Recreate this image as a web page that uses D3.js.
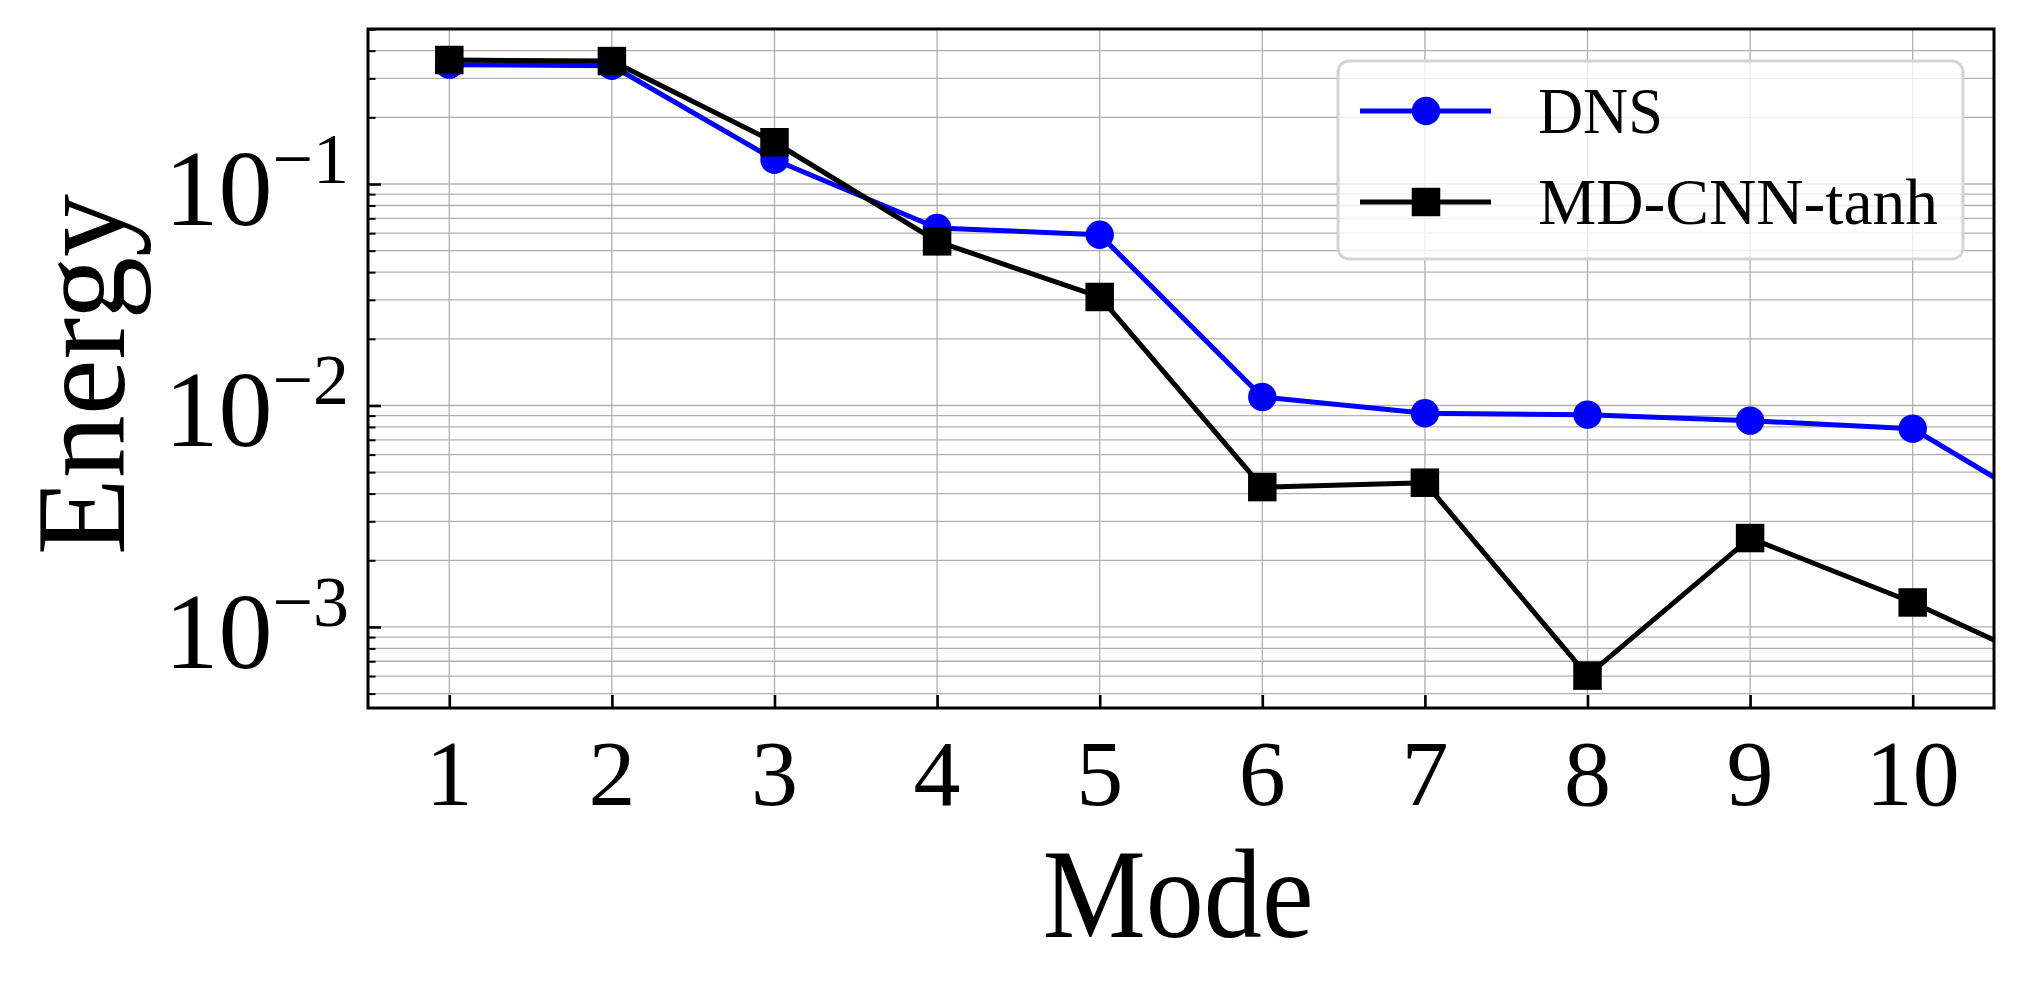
<!DOCTYPE html>
<html>
<head>
<meta charset="utf-8">
<script src="https://cdn.jsdelivr.net/npm/d3@7"></script>
<style>
  html, body { margin: 0; padding: 0; background: #fff; }
  svg { display: block; }
  text { font-family: "Liberation Serif", "DejaVu Serif", serif; fill: #000; }
</style>
</head>
<body>
<svg id="chart" width="2024" height="992"></svg>
<script>
// ---- data ----
const modes = [1, 2, 3, 4, 5, 6, 7, 8, 9, 10, 11];
const dnsEnergy = [0.346, 0.342, 0.1288, 0.0633, 0.0590, 0.01092, 0.00922, 0.00909, 0.00854, 0.00786, 0.00286];
const mdcnnEnergy = [0.363, 0.359, 0.1544, 0.0551, 0.0309, 0.00428, 0.00448, 0.000603, 0.00252, 0.00129, 0.00059];
const seriesNames = ["DNS", "MD-CNN-tanh"];
const xTickValues = [1, 2, 3, 4, 5, 6, 7, 8, 9, 10];
const yTickExponents = [-3, -2, -1];
const xLabel = "Mode";
const yLabel = "Energy";

// ---- layout ----
const L = 368, R = 1994, T = 29, B = 708;
const svg = d3.select("#chart");

const x = d3.scaleLinear().domain([0.5, 10.5]).range([L, R]);
const y = d3.scaleLog().domain([Math.pow(10, -3.366), Math.pow(10, -0.300)]).range([B, T]);

// minor + major y values inside domain
const yAll = [];
for (let e = -4; e <= 0; e++) {
  for (let m = 1; m <= 9; m++) {
    const v = m * Math.pow(10, e);
    if (v >= y.domain()[0] && v <= y.domain()[1]) yAll.push(v);
  }
}
const yMajor = yTickExponents.map(e => Math.pow(10, e));
const yMinor = yAll.filter(v => !yMajor.some(mv => Math.abs(mv - v) / mv < 1e-9));

// ---- grid ----
const grid = svg.append("g").attr("stroke", "#b0b0b0").attr("stroke-width", 1.3);
grid.selectAll("line.gy").data(yAll).join("line")
  .attr("x1", L).attr("x2", R)
  .attr("y1", d => y(d)).attr("y2", d => y(d));
grid.selectAll("line.gx").data(xTickValues).join("line")
  .attr("x1", d => x(d)).attr("x2", d => x(d))
  .attr("y1", T).attr("y2", B);

// ---- clip ----
svg.append("clipPath").attr("id", "plotclip")
  .append("rect").attr("x", L).attr("y", T).attr("width", R - L).attr("height", B - T);

const plot = svg.append("g").attr("clip-path", "url(#plotclip)");

const lineGen = d3.line().x(d => x(d[0])).y(d => y(d[1]));
const LW = 5;

// DNS
const dnsPts = modes.map((m, i) => [m, dnsEnergy[i]]);
plot.append("path").datum(dnsPts)
  .attr("d", lineGen).attr("fill", "none").attr("stroke", "#0000ff")
  .attr("stroke-width", LW).attr("stroke-linejoin", "round");
plot.selectAll("circle.dns").data(dnsPts).join("circle")
  .attr("cx", d => x(d[0])).attr("cy", d => y(d[1])).attr("r", 14.2)
  .attr("fill", "#0000ff");

// MD-CNN-tanh
const mdPts = modes.map((m, i) => [m, mdcnnEnergy[i]]);
plot.append("path").datum(mdPts)
  .attr("d", lineGen).attr("fill", "none").attr("stroke", "#000")
  .attr("stroke-width", LW).attr("stroke-linejoin", "round");
const sq = 28.5;
plot.selectAll("rect.md").data(mdPts).join("rect")
  .attr("x", d => x(d[0]) - sq / 2).attr("y", d => y(d[1]) - sq / 2)
  .attr("width", sq).attr("height", sq).attr("fill", "#000");

// ---- axes (ticks inward) ----
const xAxis = d3.axisBottom(x).tickValues(xTickValues).tickSize(-13).tickFormat("");
const gx = svg.append("g").attr("transform", `translate(0,${B})`).call(xAxis);
gx.select(".domain").remove();
gx.selectAll(".tick line").attr("stroke", "#000").attr("stroke-width", 2.6);

const yAxisMajor = d3.axisLeft(y).tickValues(yMajor).tickSize(-13).tickFormat("");
const gy = svg.append("g").attr("transform", `translate(${L},0)`).call(yAxisMajor);
gy.select(".domain").remove();
gy.selectAll(".tick line").attr("stroke", "#000").attr("stroke-width", 2.6);

const yAxisMinor = d3.axisLeft(y).tickValues(yMinor).tickSize(-7.5).tickFormat("");
const gym = svg.append("g").attr("transform", `translate(${L},0)`).call(yAxisMinor);
gym.select(".domain").remove();
gym.selectAll(".tick line").attr("stroke", "#000").attr("stroke-width", 2);

// frame
svg.append("rect").attr("x", L).attr("y", T).attr("width", R - L).attr("height", B - T)
  .attr("fill", "none").attr("stroke", "#000").attr("stroke-width", 3);

// x tick labels
svg.selectAll("text.xt").data(xTickValues).join("text")
  .attr("x", d => x(d)).attr("y", 805)
  .attr("text-anchor", "middle").attr("font-size", 94)
  .text(d => d);

// y tick labels: 10^e
const yt = svg.selectAll("text.yt").data(yTickExponents).join("text")
  .attr("x", 349).attr("y", d => y(Math.pow(10, d)) + 41)
  .attr("text-anchor", "end").attr("font-size", 108);
yt.append("tspan").text("10");
yt.append("tspan").attr("font-size", 72).attr("dy", -42).text(d => "\u2212" + Math.abs(d));

// axis labels
svg.append("text").attr("x", (L + R) / 2 - 3).attr("y", 937)
  .attr("text-anchor", "middle").attr("font-size", 126)
  .attr("textLength", 271).attr("lengthAdjust", "spacingAndGlyphs")
  .text(xLabel);
svg.append("text")
  .attr("transform", `translate(124,${(T + B) / 2 + 6}) rotate(-90)`)
  .attr("text-anchor", "middle").attr("font-size", 126)
  .attr("textLength", 361).attr("lengthAdjust", "spacingAndGlyphs")
  .text(yLabel);

// ---- legend ----
const lg = svg.append("g");
lg.append("rect").attr("x", 1338).attr("y", 61).attr("width", 625).attr("height", 198)
  .attr("rx", 11).attr("ry", 11)
  .attr("fill", "#fff").attr("fill-opacity", 0.8)
  .attr("stroke", "#d4d4d4").attr("stroke-width", 3);
const legendRows = [
  { name: seriesNames[0], color: "#0000ff", shape: "circle", y: 111, len: 125 },
  { name: seriesNames[1], color: "#000", shape: "square", y: 202, len: 400 }
];
legendRows.forEach(r => {
  lg.append("line").attr("x1", 1360).attr("x2", 1491).attr("y1", r.y).attr("y2", r.y)
    .attr("stroke", r.color).attr("stroke-width", LW);
  if (r.shape === "circle") {
    lg.append("circle").attr("cx", 1426).attr("cy", r.y).attr("r", 14.2).attr("fill", r.color);
  } else {
    lg.append("rect").attr("x", 1426 - sq / 2).attr("y", r.y - sq / 2)
      .attr("width", sq).attr("height", sq).attr("fill", r.color);
  }
  lg.append("text").attr("x", 1538).attr("y", r.y + 22).attr("font-size", 66)
    .attr("textLength", r.len).attr("lengthAdjust", "spacingAndGlyphs")
    .text(r.name);
});
</script>
</body>
</html>
